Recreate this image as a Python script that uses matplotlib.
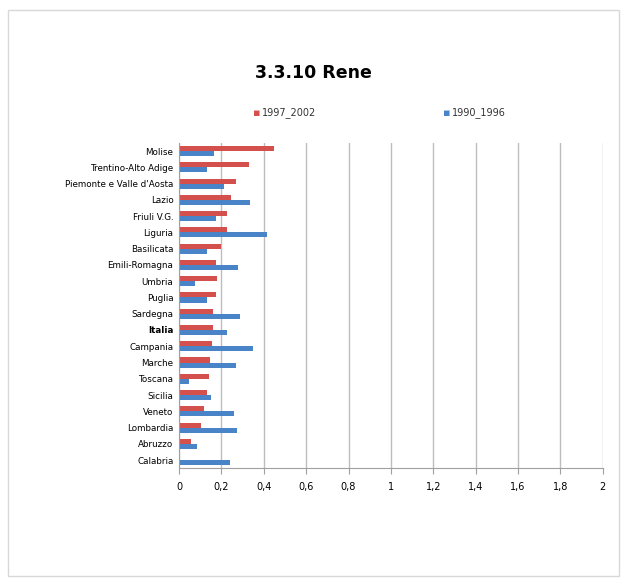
import matplotlib.pyplot as plt
from matplotlib.patches import Rectangle

regioni = ["Molise", "Trentino-Alto Adige", "Piemonte e Valle d'Aosta", "Lazio",
           "Friuli V.G.", "Liguria", "Basilicata", "Emili-Romagna", "Umbria",
           "Puglia", "Sardegna", "Italia", "Campania", "Marche", "Toscana",
           "Sicilia", "Veneto", "Lombardia", "Abruzzo", "Calabria"]
v_1997_2002 = [0.45, 0.33, 0.27, 0.245, 0.225, 0.225, 0.20, 0.175, 0.18,
               0.175, 0.16, 0.16, 0.155, 0.145, 0.14, 0.13, 0.12, 0.105, 0.055, 0.0]
v_1990_1996 = [0.165, 0.13, 0.21, 0.335, 0.175, 0.415, 0.13, 0.28, 0.075,
               0.13, 0.29, 0.225, 0.35, 0.27, 0.045, 0.15, 0.26, 0.275, 0.085, 0.24]
ticks = [0, 0.2, 0.4, 0.6, 0.8, 1.0, 1.2, 1.4, 1.6, 1.8, 2.0]

rosso = "#d4504c"
blu = "#4a84c8"

fig = plt.figure(figsize=(6.27, 5.86), dpi=100)
fig.patches.append(Rectangle((0.013, 0.017), 0.974, 0.966, transform=fig.transFigure,
                             fill=False, edgecolor="#d8d8d8", linewidth=1))
ax = fig.add_axes([0.2855, 0.201, 0.676, 0.555])

n = len(regioni)
y = [n - 1 - i for i in range(n)]
h = 0.31
ax.barh([p + h / 2 for p in y], v_1997_2002, height=h, color=rosso, label="1997_2002")
ax.barh([p - h / 2 for p in y], v_1990_1996, height=h, color=blu, label="1990_1996")

ax.set_xlim(0, 2)
ax.set_ylim(-0.5, n - 0.5)
ax.set_xticks(ticks)
ax.set_xticklabels([("%g" % t).replace(".", ",") for t in ticks], fontsize=7)
ax.set_yticks(y)
ax.set_yticklabels(regioni, fontsize=6.3)
for lab in ax.get_yticklabels():
    if lab.get_text() == "Italia":
        lab.set_fontweight("bold")
ax.xaxis.grid(True, color="#bdbdbd", linewidth=1)
ax.set_axisbelow(True)
for s in ["top", "right"]:
    ax.spines[s].set_visible(False)
ax.spines["left"].set_color("#a0a0a0")
ax.spines["bottom"].set_color("#a0a0a0")
ax.tick_params(axis="y", length=0, pad=4)
ax.tick_params(axis="x", length=4, color="#a0a0a0", pad=6)

fig.text(0.5, 0.875, "3.3.10 Rene", ha="center", va="center", fontsize=12.5, fontweight="bold")
fig.text(0.409, 0.808, "▪", color=rosso, ha="center", va="center", fontsize=8)
fig.text(0.418, 0.808, "1997_2002", ha="left", va="center", fontsize=7, color="#333333")
fig.text(0.712, 0.808, "▪", color=blu, ha="center", va="center", fontsize=8)
fig.text(0.721, 0.808, "1990_1996", ha="left", va="center", fontsize=7, color="#333333")

plt.savefig("out.png", dpi=100)
